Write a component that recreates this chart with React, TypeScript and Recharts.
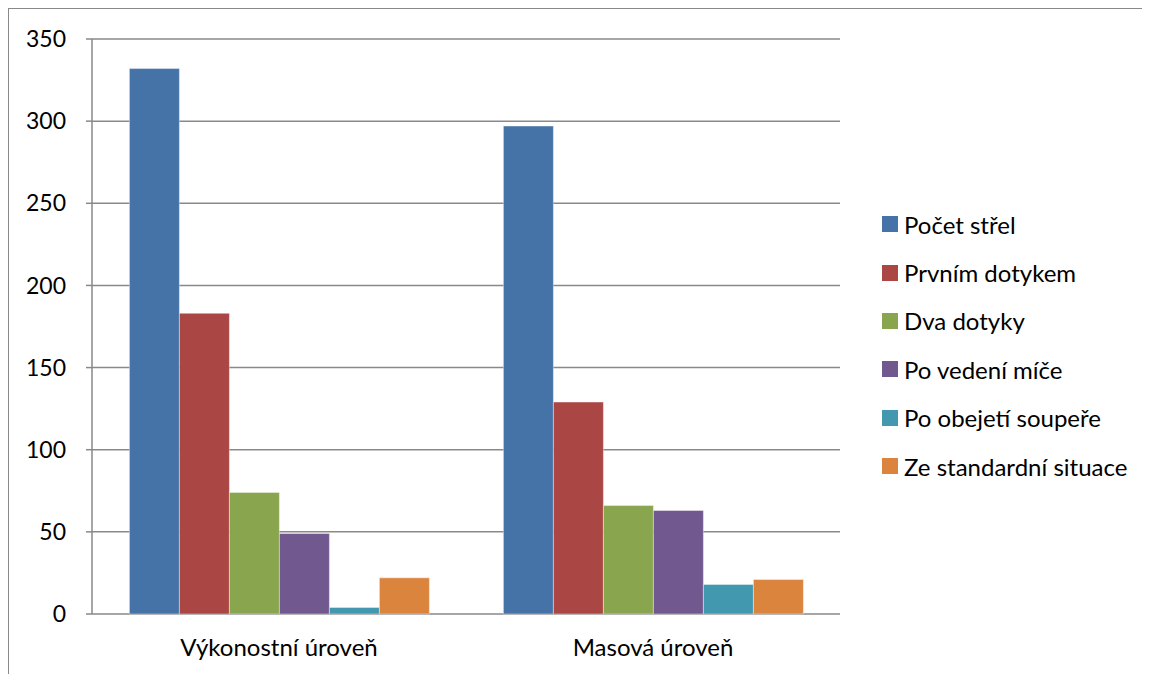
import { Bar, BarChart, CartesianGrid, Legend, XAxis, YAxis } from "recharts";

const CATEGORIES = ["Výkonostní úroveň", "Masová úroveň"];
const SERIES_NAMES = [
  "Počet střel",
  "Prvním dotykem",
  "Dva dotyky",
  "Po vedení míče",
  "Po obejetí soupeře",
  "Ze standardní situace",
];
const POCET_STREL = [332, 297];
const PRVNIM_DOTYKEM = [183, 129];
const DVA_DOTYKY = [74, 66];
const PO_VEDENI = [49, 63];
const PO_OBEJETI = [4, 18];
const ZE_STANDARDNI = [22, 21];
const Y_TICKS = [0, 50, 100, 150, 200, 250, 300, 350];

const COLORS = ["#4572A7", "#AA4643", "#89A54E", "#71588F", "#4198AF", "#DB843D"];
const GRID = "#898989";
const FONT = "Lato, 'Open Sans', sans-serif";

const seriesValues = [POCET_STREL, PRVNIM_DOTYKEM, DVA_DOTYKY, PO_VEDENI, PO_OBEJETI, ZE_STANDARDNI];
const keys = SERIES_NAMES.map((_, i) => `s${i}`);

const data = CATEGORIES.map((cat, ci) => {
  const row: Record<string, string | number> = { cat, pos: ci + 0.5 };
  seriesValues.forEach((vals, si) => {
    row[keys[si]] = vals[ci];
  });
  return row;
});

function LegendBox() {
  return (
    <div style={{ paddingLeft: 42, fontFamily: FONT, fontSize: 24, color: "#000" }}>
      {SERIES_NAMES.map((name, i) => (
        <div key={name} style={{ height: 48.4, display: "flex", alignItems: "center", whiteSpace: "nowrap" }}>
          <span style={{ width: 16, height: 16, background: COLORS[i], display: "inline-block", marginRight: 6 }} />
          <span>{name}</span>
        </div>
      ))}
    </div>
  );
}

export default function App() {
  return (
    <>
      <style>{"body{overflow:hidden}"}</style>
      <div style={{ width: 1160, height: 690, border: `1px solid ${GRID}`, background: "#fff" }}>
        <BarChart
          width={1141}
          height={670}
          data={data}
          margin={{ top: 30, right: 10, bottom: 25, left: 0 }}
          barCategoryGap="10%"
          barGap={0}
        >
          <CartesianGrid vertical={false} stroke={GRID} strokeWidth={1.5} xAxisId="cat" />
          <XAxis
            xAxisId="grid"
            type="number"
            dataKey="pos"
            domain={[0, CATEGORIES.length]}
            ticks={Array.from({ length: CATEGORIES.length + 1 }, (_, i) => i)}
            tickFormatter={() => ""}
            axisLine={{ stroke: GRID, strokeWidth: 1.5 }}
            tickLine={{ stroke: GRID, strokeWidth: 1.5 }}
            tickSize={6}
            height={0}
          />
          <XAxis
            xAxisId="cat"
            dataKey="cat"
            axisLine={false}
            tickLine={false}
            tickSize={6}
            tickMargin={19}
            height={40}
            tick={{ fill: "#000", fontSize: 24, fontFamily: FONT }}
          />
          <YAxis
            domain={[0, 350]}
            ticks={Y_TICKS}
            width={83}
            axisLine={{ stroke: GRID, strokeWidth: 1.5 }}
            tickLine={{ stroke: GRID, strokeWidth: 1.5 }}
            tickSize={6}
            tickMargin={20}
            tick={{ fill: "#000", fontSize: 23, fontFamily: FONT }}
          />
          <Legend
            layout="vertical"
            align="right"
            verticalAlign="middle"
            width={300}
            wrapperStyle={{ top: 191 }}
            content={() => <LegendBox />}
          />
          {keys.map((k, i) => (
            <Bar
              key={k}
              xAxisId="cat"
              dataKey={k}
              name={SERIES_NAMES[i]}
              fill={COLORS[i]}
              stroke="#ffffff"
              strokeOpacity={0.5}
              strokeWidth={0.8}
              isAnimationActive={false}
            />
          ))}
        </BarChart>
      </div>
    </>
  );
}
